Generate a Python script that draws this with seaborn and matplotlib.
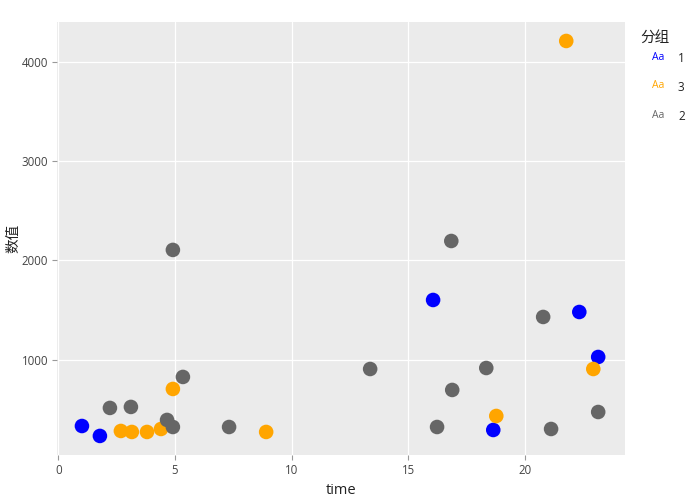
import matplotlib
matplotlib.use("Agg")
import matplotlib.pyplot as plt
import seaborn as sns
import pandas as pd

# ---- data ----
groups = ["1", "3", "2"]
colors = ["#0000FF", "#FFA500", "#666666"]

time_g1 = [1.01, 1.78, 16.07, 18.65, 22.34, 23.15]
val_g1 = [332, 232, 1601, 292, 1480, 1027]

time_g3 = [21.78, 4.91, 2.68, 3.15, 3.80, 4.40, 8.91, 18.78, 22.94]
val_g3 = [4209, 705, 282, 272, 272, 302, 272, 433, 906]

time_g2 = [2.21, 3.11, 4.66, 4.91, 4.91, 5.34, 7.32, 13.37, 16.24, 16.85,
           16.89, 18.35, 20.79, 21.13, 23.15]
val_g2 = [514, 524, 393, 322, 2105, 826, 322, 906, 322, 2195,
          695, 916, 1430, 302, 473]

x_ticks = [0, 5, 10, 15, 20]
y_ticks = [1000, 2000, 3000, 4000]
x_label = "time"
y_label = "数值"
legend_title = "分组"

df = pd.DataFrame({
    "time": time_g1 + time_g3 + time_g2,
    "value": val_g1 + val_g3 + val_g2,
    "group": ["1"] * len(time_g1) + ["3"] * len(time_g3) + ["2"] * len(time_g2),
})

sns.set_theme(style="white")
plt.rcParams["font.family"] = ["Open Sans", "Noto Sans CJK SC", "DejaVu Sans"]

fig = plt.figure(figsize=(7, 5), dpi=100)
ax = fig.add_axes([57 / 700, 45 / 500, 568 / 700, 433 / 500])
ax.set_facecolor("#EBEBEB")

sns.scatterplot(data=df, x="time", y="value", hue="group", hue_order=groups,
                palette=dict(zip(groups, colors)), s=110, linewidth=0,
                alpha=1, legend=False, ax=ax, zorder=3)

ax.set_xlim(-0.06, 24.3)
ax.set_ylim(40, 4400)
ax.set_xticks(x_ticks)
ax.set_yticks(y_ticks)
ax.grid(True, color="white", linewidth=0.9, zorder=0)
ax.set_axisbelow(True)
for sp in ax.spines.values():
    sp.set_visible(False)
ax.tick_params(axis="both", which="major", length=3.5, width=0.8,
               color="#999999", labelcolor="#444444", labelsize=8.3,
               direction="out", pad=3, bottom=True, left=True)
ax.set_xlabel(x_label, fontsize=10.5, color="#222222")
ax.xaxis.set_label_coords(0.5, -0.081)
ax.xaxis.label.set_va("center")
ax.set_ylabel(y_label, fontsize=10.5, color="#222222",
              family=["Noto Sans CJK SC", "DejaVu Sans"])
ax.yaxis.set_label_coords(-0.0775, 0.501)
ax.yaxis.label.set_va("center")

# legend (text glyph style)
fig.text(640 / 700, 1 - 38 / 500, legend_title, fontsize=10.5, color="#222222",
         va="center", ha="left", family=["Noto Sans CJK SC", "DejaVu Sans"])
for i, (g, c) in enumerate(zip(groups, colors)):
    yy = 1 - (57 + 29 * i) / 500
    fig.text(658 / 700, yy, "Aa", fontsize=7.5, color=c, ha="center", va="center")
    fig.text(678 / 700, yy - 2 / 500, g, fontsize=8.5, color="#222222",
             ha="left", va="center")

fig.savefig("out.png", dpi=100)
